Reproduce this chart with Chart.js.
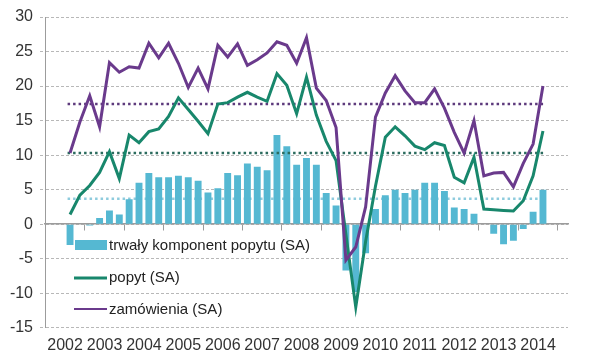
<!DOCTYPE html>
<html>
<head>
<meta charset="utf-8">
<script src="https://cdn.jsdelivr.net/npm/chart.js@4.4.1/dist/chart.umd.min.js"></script>
<style>
  html, body { margin: 0; padding: 0; background: #fff; }
  #wrap { width: 597px; height: 363px; }
</style>
</head>
<body>
<div id="wrap"><canvas id="chart"></canvas></div>
<script>
// quarterly data, 2002 Q1 .. 2014 Q1
const years = ['2002', '2003', '2004', '2005', '2006', '2007', '2008', '2009', '2010', '2011', '2012', '2013', '2014'];
const seriesLabels = ['trwały komponent popytu (SA)', 'popyt (SA)', 'zamówienia (SA)'];

const trwaly = [-3.0, 0.0, -0.2, 0.9, 2.0, 1.4, 3.6, 6.0, 7.4, 6.8, 6.8, 7.0, 6.8, 6.3, 4.6, 5.2,
    7.4, 7.1, 8.8, 8.3, 7.8, 12.9, 11.3, 8.6, 9.6, 8.6, 4.5, 2.7, -6.7, -9.8, -4.2, 2.2,
    4.2, 5.0, 4.5, 5.0, 6.0, 6.0, 4.8, 2.4, 2.2, 1.5, 0.0, -1.4, -2.9, -2.4, -0.7, 1.8, 5.0];
const popyt = [1.4, 4.2, 5.6, 7.5, 10.5, 6.6, 12.9, 11.8, 13.4, 13.8, 15.6, 18.3, 16.6, 14.9, 13.1, 17.4,
    17.6, 18.4, 19.1, 18.4, 17.8, 21.8, 20.1, 16.0, 21.3, 15.8, 12.0, 9.2, -1.5, -12.0, -2.5, 5.5,
    12.6, 14.1, 12.8, 11.3, 10.8, 11.8, 11.4, 6.8, 6.0, 9.7, 2.2, 2.1, 2.0, 1.9, 3.4, 7.0, 13.5];
const zamowienia = [10.3, 14.8, 18.6, 14.1, 23.4, 22.0, 22.8, 22.6, 26.2, 24.1, 26.2, 23.3, 19.8, 22.6, 19.6, 25.9,
    24.2, 26.1, 23.0, 23.8, 24.8, 26.4, 25.9, 23.3, 27.0, 19.7, 17.9, 14.0, -5.2, -3.3, 2.5, 15.5,
    19.0, 21.5, 19.3, 17.6, 17.6, 19.6, 16.8, 13.3, 10.3, 15.0, 7.0, 7.4, 7.5, 5.4, 8.8, 11.6, 20.0];

// long-run averages (dotted lines)
const trwalyAvg = 3.7;
const popytAvg = 10.3;
const zamowieniaAvg = 17.4;

const colBar = '#55b8d2';
const colPopyt = '#18876c';
const colZam = '#6a3a8c';
const tickFont = { family: '"Liberation Sans", Arial, sans-serif', size: 16 };

// x value = quarter index + 0.5, so year ticks fall on boundaries
const toPoints = arr => arr.map((v, i) => ({ x: i + 0.5, y: v }));
const avgLine = v => [{ x: 0.25, y: v }, { x: 48.75, y: v }];

const legendPlugin = {
    id: 'insideLegend',
    afterDraw(chart) {
        const ctx = chart.ctx;
        ctx.save();
        ctx.font = '15px "Liberation Sans", Arial, sans-serif';
        ctx.textBaseline = 'middle';
        // bar swatch
        ctx.fillStyle = colBar;
        ctx.fillRect(75, 240, 32, 10);
        ctx.fillStyle = '#222';
        ctx.fillText(seriesLabels[0], 109, 246);
        // line swatches
        ctx.lineWidth = 3;
        ctx.strokeStyle = colPopyt;
        ctx.beginPath(); ctx.moveTo(74, 278); ctx.lineTo(107, 278); ctx.stroke();
        ctx.fillText(seriesLabels[1], 109, 278);
        ctx.lineWidth = 2;
        ctx.strokeStyle = colZam;
        ctx.beginPath(); ctx.moveTo(74, 309); ctx.lineTo(107, 309); ctx.stroke();
        ctx.fillText(seriesLabels[2], 109, 310);
        ctx.restore();
    }
};

new Chart(document.getElementById('chart'), {
    type: 'bar',
    data: {
        datasets: [
            {
                type: 'line', label: seriesLabels[2], data: toPoints(zamowienia), order: 0,
                borderColor: colZam, borderWidth: 3, pointRadius: 0, tension: 0
            },
            {
                type: 'line', label: seriesLabels[1], data: toPoints(popyt), order: 1,
                borderColor: colPopyt, borderWidth: 3, pointRadius: 0, tension: 0
            },
            {
                type: 'line', label: 'avg zam', data: avgLine(zamowieniaAvg), order: 2,
                borderColor: '#5d3a7c', borderWidth: 2.5, borderDash: [2.5, 3], pointRadius: 0
            },
            {
                type: 'line', label: 'avg popyt', data: avgLine(popytAvg), order: 3,
                borderColor: '#2b6b5e', borderWidth: 2.5, borderDash: [2.5, 3], pointRadius: 0
            },
            {
                label: seriesLabels[0], data: toPoints(trwaly), order: 4,
                backgroundColor: colBar, barPercentage: 0.7, categoryPercentage: 1
            },
            {
                type: 'line', label: 'avg trwaly', data: avgLine(trwalyAvg), order: 5,
                borderColor: '#8ecbdd', borderWidth: 2.5, borderDash: [2.5, 3], pointRadius: 0
            }
        ]
    },
    options: {
        responsive: true,
        maintainAspectRatio: false,
        animation: false,
        layout: { padding: { top: 17, right: 29, bottom: 0, left: 0 } },
        plugins: { legend: { display: false }, tooltip: { enabled: false } },
        scales: {
            x: {
                type: 'linear', min: 0, max: 49, position: { y: 0 },
                ticks: { display: false, stepSize: 4, includeBounds: false },
                grid: { drawOnChartArea: false, drawTicks: true, tickLength: 6, color: '#9c9c9c' },
                border: { display: true, color: '#9c9c9c', width: 1.5 }
            },
            xLabels: {
                type: 'linear', min: 0, max: 49, position: 'bottom',
                ticks: {
                    stepSize: 4, includeBounds: false, autoSkip: false, maxRotation: 0, padding: 8,
                    font: tickFont, color: '#333',
                    callback: v => years[v / 4]
                },
                grid: { display: false, drawTicks: false },
                border: { display: false }
            },
            y: {
                min: -15, max: 30,
                ticks: { stepSize: 5, padding: 7, font: tickFont, color: '#333' },
                grid: { color: '#b8b8b8', tickLength: 5, tickBorderDash: [3, 2] },
                border: { display: true, color: '#9c9c9c', dash: [3, 2] },
                afterFit: s => { s.width = 45; }
            }
        }
    },
    plugins: [legendPlugin]
});
</script>
</body>
</html>
